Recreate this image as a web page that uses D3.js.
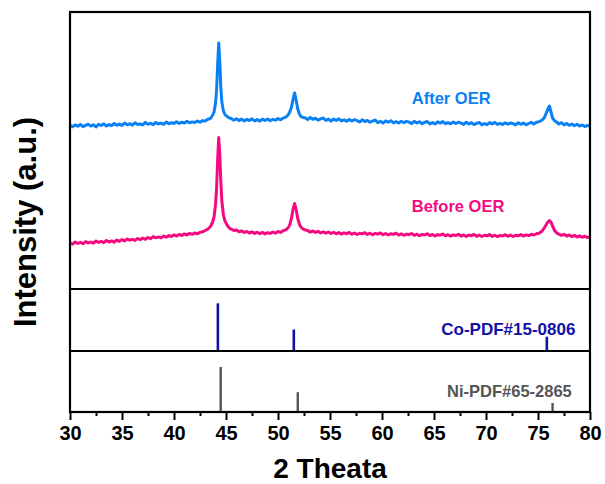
<!DOCTYPE html>
<html>
<head>
<meta charset="utf-8">
<script src="https://cdn.jsdelivr.net/npm/d3@7"></script>
<style>
body { margin: 0; background: #fff; }
svg text { font-family: "Liberation Sans", Arial, sans-serif; font-weight: bold; }
</style>
</head>
<body>
<div id="xrd"></div>
<script>
// XRD patterns, [2theta, intensity (a.u.)]
var afterOER = [
    [30,1638],[30.25,1622],[30.5,1641],[30.75,1627],[31,1645],[31.25,1624],[31.5,1636],[31.75,1648],[32,1629],[32.25,1643],
    [32.5,1621],[32.75,1647],[33,1635],[33.25,1652],[33.5,1630],[33.75,1644],[34,1633],[34.25,1655],[34.5,1638],[34.75,1649],
    [35,1636],[35.25,1660],[35.5,1642],[35.75,1653],[36,1639],[36.25,1662],[36.5,1645],[36.75,1650],[37,1641],[37.25,1666],
    [37.5,1648],[37.75,1657],[38,1643],[38.25,1665],[38.5,1651],[38.75,1659],[39,1647],[39.25,1670],[39.5,1652],[39.75,1663],
    [40,1656],[40.25,1672],[40.5,1655],[40.75,1668],[41,1660],[41.25,1676],[41.5,1662],[41.75,1671],[42,1665],[42.25,1680],
    [42.5,1668],[42.75,1684],[43,1679],[43.25,1698],[43.5,1705],[43.7,1735],[43.85,1770],[44.0,1860],[44.1,2000],[44.2,2250],
    [44.3,2460],[44.4,2280],[44.5,2020],[44.6,1870],[44.75,1780],[44.9,1745],[45.1,1725],[45.3,1712],[45.5,1705],[45.75,1688],
    [46,1702],[46.25,1684],[46.5,1699],[46.75,1680],[47,1696],[47.25,1685],[47.5,1702],[47.75,1681],[48,1694],[48.25,1679],
    [48.5,1698],[48.75,1686],[49,1700],[49.25,1683],[49.5,1697],[49.75,1688],[50,1704],[50.25,1692],[50.5,1709],[50.75,1718],
    [51.0,1745],[51.15,1775],[51.3,1820],[51.45,1900],[51.6,1960],[51.75,1885],[51.9,1800],[52.05,1752],[52.2,1725],[52.4,1715],
    [52.6,1712],[52.85,1694],[53.1,1715],[53.35,1697],[53.6,1708],[53.85,1689],[54.1,1701],[54.35,1710],[54.6,1686],[54.85,1699],
    [55.1,1678],[55.35,1700],[55.6,1686],[55.85,1702],[56.1,1681],[56.35,1691],[56.6,1677],[56.85,1695],[57.1,1680],[57.35,1693],
    [57.6,1684],[57.85,1670],[58.1,1692],[58.35,1675],[58.6,1686],[58.85,1668],[59.1,1680],[59.35,1689],[59.6,1664],[59.85,1678],
    [60.1,1659],[60.35,1681],[60.6,1668],[60.85,1683],[61.1,1662],[61.35,1673],[61.6,1660],[61.85,1678],[62.1,1663],[62.35,1676],
    [62.6,1669],[62.85,1655],[63.1,1677],[63.35,1660],[63.6,1672],[63.85,1653],[64.1,1666],[64.35,1675],[64.6,1651],[64.85,1664],
    [65.1,1650],[65.35,1672],[65.6,1659],[65.85,1674],[66.1,1653],[66.35,1664],[66.6,1652],[66.85,1669],[67.1,1655],[67.35,1667],
    [67.6,1660],[67.85,1646],[68.1,1668],[68.35,1651],[68.6,1663],[68.85,1644],[69.1,1657],[69.35,1666],[69.6,1642],[69.85,1655],
    [70.1,1643],[70.35,1664],[70.6,1650],[70.85,1667],[71.1,1646],[71.35,1657],[71.6,1645],[71.85,1662],[72.1,1648],[72.35,1660],
    [72.6,1654],[72.85,1641],[73.1,1663],[73.35,1647],[73.6,1659],[73.85,1642],[74.1,1655],[74.35,1667],[74.6,1650],[74.85,1668],
    [75.1,1672],[75.4,1690],[75.6,1712],[75.8,1760],[75.95,1800],[76.1,1830],[76.25,1770],[76.4,1710],[76.6,1682],[76.8,1668],
    [77.0,1650],[77.25,1663],[77.5,1641],[77.75,1655],[78.0,1637],[78.25,1650],[78.5,1632],[78.75,1647],[79.0,1629],[79.25,1641],
    [79.5,1624],[79.75,1636],[80.0,1628]
];

var beforeOER = [
    [30,462],[30.25,448],[30.5,470],[30.75,455],[31,467],[31.25,452],[31.5,474],[31.75,461],[32,469],[32.25,458],
    [32.5,480],[32.75,466],[33,476],[33.25,463],[33.5,485],[33.75,470],[34,481],[34.25,468],[34.5,490],[34.75,477],
    [35,494],[35.25,481],[35.5,500],[35.75,488],[36,497],[36.25,486],[36.5,505],[36.75,493],[37,510],[37.25,497],
    [37.5,515],[37.75,503],[38,524],[38.25,512],[38.5,521],[38.75,511],[39,530],[39.25,518],[39.5,534],[39.75,525],
    [40,541],[40.25,529],[40.5,546],[40.75,535],[41,551],[41.25,540],[41.5,556],[41.75,547],[42,560],[42.25,552],
    [42.5,566],[42.75,572],[43,585],[43.25,598],[43.5,625],[43.7,665],[43.85,720],[44.0,850],[44.1,1020],[44.2,1300],
    [44.3,1515],[44.4,1350],[44.5,1080],[44.6,880],[44.75,740],[44.9,680],[45.1,640],[45.3,612],[45.5,598],[45.75,585],
    [46,590],[46.25,572],[46.5,581],[46.75,566],[47,575],[47.25,560],[47.5,571],[47.75,556],[48,568],[48.25,553],
    [48.5,566],[48.75,551],[49,563],[49.25,556],[49.5,570],[49.75,558],[50,575],[50.25,566],[50.5,583],[50.75,592],
    [51.0,615],[51.15,650],[51.3,710],[51.45,800],[51.6,855],[51.75,790],[51.9,705],[52.05,650],[52.2,620],[52.4,600],
    [52.6,592],[52.85,584],[53.1,569],[53.35,580],[53.6,566],[53.85,577],[54.1,560],[54.35,572],[54.6,558],[54.85,570],
    [55.1,555],[55.35,567],[55.6,552],[55.85,565],[56.1,549],[56.35,561],[56.6,553],[56.85,566],[57.1,548],[57.35,560],
    [57.6,545],[57.85,557],[58.1,551],[58.35,563],[58.6,546],[58.85,558],[59.1,542],[59.35,556],[59.6,549],[59.85,561],
    [60.1,543],[60.35,555],[60.6,540],[60.85,553],[61.1,546],[61.35,558],[61.6,539],[61.85,551],[62.1,537],[62.35,549],
    [62.6,543],[62.85,555],[63.1,536],[63.35,548],[63.6,533],[63.85,546],[64.1,540],[64.35,552],[64.6,534],[64.85,545],
    [65.1,530],[65.35,544],[65.6,538],[65.85,550],[66.1,531],[66.35,543],[66.6,528],[66.85,541],[67.1,535],[67.35,547],
    [67.6,529],[67.85,540],[68.1,526],[68.35,539],[68.6,533],[68.85,546],[69.1,527],[69.35,539],[69.6,525],[69.85,537],
    [70.1,531],[70.35,544],[70.6,526],[70.85,538],[71.1,524],[71.35,536],[71.6,530],[71.85,543],[72.1,527],[72.35,539],
    [72.6,525],[72.85,537],[73.1,532],[73.35,545],[73.6,529],[73.85,541],[74.1,534],[74.35,547],[74.6,540],[74.85,552],
    [75.1,558],[75.4,580],[75.6,610],[75.8,645],[75.95,670],[76.1,685],[76.25,670],[76.4,630],[76.6,585],[76.8,560],
    [77.0,548],[77.25,536],[77.5,547],[77.75,530],[78.0,540],[78.25,524],[78.5,536],[78.75,520],[79.0,531],[79.25,517],
    [79.5,528],[79.75,514],[80.0,522]
];

// reference cards
var coPeaks = [44.22, 51.52, 75.85];
var coIntensity = [100, 45, 30];
var niPeaks = [44.49, 51.9, 76.4];
var niIntensity = [100, 44, 20];

var majorTicks = [30, 35, 40, 45, 50, 55, 60, 65, 70, 75, 80];
var minorTicks = [32.5, 37.5, 42.5, 47.5, 52.5, 57.5, 62.5, 67.5, 72.5, 77.5];

var seriesNames = ["After OER", "Before OER"];
var seriesColors = ["#0a80f5", "#f5097f"];
var cardNames = ["Co-PDF#15-0806", "Ni-PDF#65-2865"];
var cardColors = ["#1010a8", "#555555"];

/**
 * Constructor for the XRD chart
 */
function XrdChart(){
    var self = this;
    self.init();
};

/**
 * Sets up svg, scales and the stacked panels
 */
XrdChart.prototype.init = function(){
    var self = this;
    self.margin = {top: 12, left: 70};
    self.width = 520;
    self.panelHeights = [277, 62, 61];

    self.svg = d3.select("#xrd").append("svg")
        .attr("width", 605)
        .attr("height", 484);

    self.top = self.margin.top;
    self.mid = self.top + self.panelHeights[0];
    self.low = self.mid + self.panelHeights[1];
    self.bottom = self.low + self.panelHeights[2];

    self.xScale = d3.scaleLinear()
        .domain([30, 80])
        .range([self.margin.left, self.margin.left + self.width]);

    //intensity scales for each panel
    self.yPattern = d3.scaleLinear().domain([0, 2770]).range([self.mid, self.top]);
    self.yCo = d3.scaleLinear().domain([0, 130]).range([self.low, self.mid]);
    self.yNi = d3.scaleLinear().domain([0, 135.5]).range([self.bottom, self.low]);
};

/**
 * Draws everything
 */
XrdChart.prototype.update = function(){
    var self = this;
    var svg = self.svg;
    var x = self.xScale;

    var line = d3.line()
        .x(function(d){ return x(d[0]); })
        .y(function(d){ return self.yPattern(d[1]); });

    [afterOER, beforeOER].forEach(function(pattern, i){
        svg.append("path")
            .datum(pattern)
            .attr("d", line)
            .attr("fill", "none")
            .attr("stroke", seriesColors[i])
            .attr("stroke-width", 3)
            .attr("stroke-linejoin", "round");
    });

    //stick patterns
    var cards = [
        {peaks: coPeaks, vals: coIntensity, y: self.yCo, color: cardColors[0], w: 2.6},
        {peaks: niPeaks, vals: niIntensity, y: self.yNi, color: cardColors[1], w: 2.4}
    ];
    cards.forEach(function(card){
        svg.append("g")
            .selectAll("line")
            .data(card.peaks)
            .enter()
            .append("line")
            .attr("x1", function(d){ return x(d); })
            .attr("x2", function(d){ return x(d); })
            .attr("y1", card.y(0))
            .attr("y2", function(d, i){ return card.y(card.vals[i]); })
            .attr("stroke", card.color)
            .attr("stroke-width", card.w);
    });

    //frame and panel dividers
    svg.append("rect")
        .attr("x", self.margin.left)
        .attr("y", self.top)
        .attr("width", self.width)
        .attr("height", self.bottom - self.top)
        .attr("fill", "none")
        .attr("stroke", "#000")
        .attr("stroke-width", 2.2);

    [self.mid, self.low].forEach(function(yy){
        svg.append("line")
            .attr("x1", self.margin.left)
            .attr("x2", self.margin.left + self.width)
            .attr("y1", yy)
            .attr("y2", yy)
            .attr("stroke", "#000")
            .attr("stroke-width", 2.2);
    });

    //x axis, major + minor ticks
    var xAxis = svg.append("g")
        .attr("transform", "translate(0," + self.bottom + ")")
        .call(d3.axisBottom(x).tickValues(majorTicks).tickSize(8).tickPadding(6).tickFormat(d3.format("d")));
    xAxis.select(".domain").remove();
    xAxis.selectAll("line").attr("stroke", "#000").attr("stroke-width", 2);
    xAxis.selectAll("text")
        .attr("fill", "#000")
        .style("font-size", "20px")
        .style("font-family", "'Liberation Sans', Arial, sans-serif")
        .style("font-weight", "bold");

    var xMinor = svg.append("g")
        .attr("transform", "translate(0," + self.bottom + ")")
        .call(d3.axisBottom(x).tickValues(minorTicks).tickSize(4).tickFormat(""));
    xMinor.select(".domain").remove();
    xMinor.selectAll("line").attr("stroke", "#000").attr("stroke-width", 2);

    //axis titles
    svg.append("text")
        .attr("x", x(55))
        .attr("y", 478)
        .attr("text-anchor", "middle")
        .style("font-size", "28px")
        .text("2 Theata");

    svg.append("text")
        .attr("transform", "translate(36," + ((self.top + self.bottom) / 2 + 10) + ") rotate(-90)")
        .attr("text-anchor", "middle")
        .style("font-size", "31px")
        .text("Intensity (a.u.)");

    //series labels
    svg.append("text")
        .attr("x", x(62.86))
        .attr("y", self.yPattern(1850))
        .attr("fill", seriesColors[0])
        .style("font-size", "16.5px")
        .text(seriesNames[0]);

    svg.append("text")
        .attr("x", x(62.86))
        .attr("y", self.yPattern(770))
        .attr("fill", seriesColors[1])
        .style("font-size", "16.5px")
        .text(seriesNames[1]);

    svg.append("text")
        .attr("x", x(78.6))
        .attr("y", self.yCo(33.5))
        .attr("text-anchor", "end")
        .attr("fill", cardColors[0])
        .style("font-size", "17px")
        .text(cardNames[0]);

    svg.append("text")
        .attr("x", x(78.25))
        .attr("y", self.yNi(34))
        .attr("text-anchor", "end")
        .attr("fill", cardColors[1])
        .style("font-size", "16.5px")
        .text(cardNames[1]);
};

var chart = new XrdChart();
chart.update();
</script>
</body>
</html>
